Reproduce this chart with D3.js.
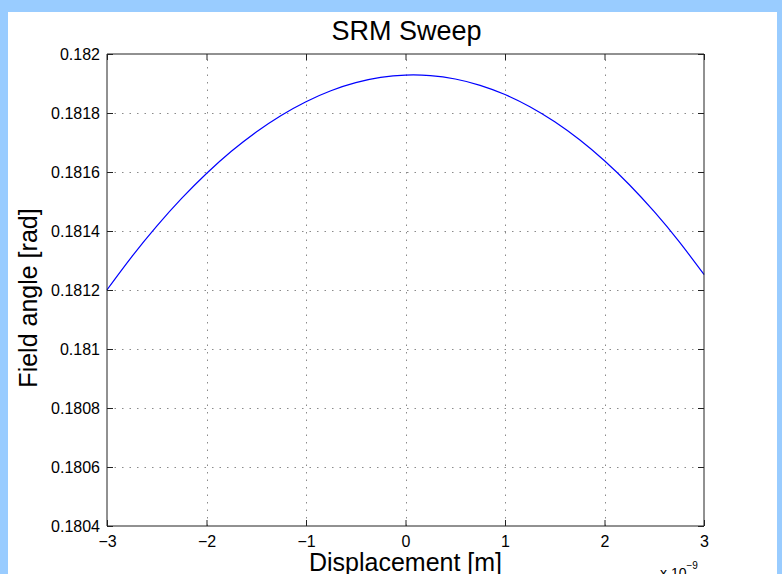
<!DOCTYPE html>
<html>
<head>
<meta charset="utf-8">
<script src="https://cdn.jsdelivr.net/npm/d3@7"></script>
<style>
  html, body { margin: 0; padding: 0; background: #99ccff; }
  svg { display: block; }
  text { font-family: "Liberation Sans", Arial, Helvetica, sans-serif; fill: #000; }
</style>
</head>
<body>
<svg id="chart" width="782" height="574"></svg>
<script>
// ---- data (x in units of 1e-9 m) ----
const displacement = [-3.00, -2.75, -2.50, -2.25, -2.00, -1.75, -1.50, -1.25, -1.00, -0.75, -0.50, -0.25,
                       0.00, 0.25, 0.50, 0.75, 1.00, 1.25, 1.50, 1.75, 2.00, 2.25, 2.50, 2.75, 3.00];
const fieldAngle = [0.1812006, 0.1813132, 0.1814165, 0.1815103, 0.1815949, 0.1816701, 0.1817357, 0.1817918,
                    0.1818384, 0.1818755, 0.1819028, 0.1819205, 0.1819285, 0.1819267, 0.1819152, 0.1818938,
                    0.1818626, 0.1818214, 0.1817703, 0.1817092, 0.1816381, 0.1815569, 0.1814655, 0.1813640, 0.1812524];
const xTicks = [-3, -2, -1, 0, 1, 2, 3];
const xTickLabels = ["\u22123", "\u22122", "\u22121", "0", "1", "2", "3"];
const yTicks = [0.1804, 0.1806, 0.1808, 0.1810, 0.1812, 0.1814, 0.1816, 0.1818, 0.1820];
const yTickLabels = ["0.1804", "0.1806", "0.1808", "0.181", "0.1812", "0.1814", "0.1816", "0.1818", "0.182"];
const titleText = "SRM Sweep";
const xLabelText = "Displacement [m]";
const yLabelText = "Field angle [rad]";

const svg = d3.select("#chart");
const W = 782, H = 574;
const plot = { left: 107, right: 704, top: 54, bottom: 526 };

// white figure panel
svg.append("rect").attr("x", 8).attr("y", 12).attr("width", 769).attr("height", H - 12).attr("fill", "#ffffff");

const x = d3.scaleLinear().domain([-3, 3]).range([plot.left, plot.right]);
const y = d3.scaleLinear().domain([0.1804, 0.1820]).range([plot.bottom, plot.top]);

// grid
const grid = svg.append("g").attr("stroke", "#8a8a8a").attr("stroke-width", 1)
  .attr("stroke-dasharray", "1.5,6").attr("fill", "none");
grid.selectAll("line.gx").data(xTicks.slice(1, -1)).join("line")
  .attr("x1", d => Math.round(x(d)) + 0.5).attr("x2", d => Math.round(x(d)) + 0.5)
  .attr("y1", plot.bottom).attr("y2", plot.top);
grid.selectAll("line.gy").data(yTicks.slice(1, -1)).join("line")
  .attr("y1", d => Math.round(y(d)) + 0.5).attr("y2", d => Math.round(y(d)) + 0.5)
  .attr("x1", plot.left).attr("x2", plot.right);

// curve
const pts = displacement.map((d, i) => [d, fieldAngle[i]]);
svg.append("path").datum(pts)
  .attr("fill", "none").attr("stroke", "#0000ff").attr("stroke-width", 1.2)
  .attr("d", d3.line().x(d => x(d[0])).y(d => y(d[1])).curve(d3.curveNatural));

// axes
const tickFont = 16;
const xAxisB = d3.axisBottom(x).tickValues(xTicks).tickSize(-6).tickPadding(10)
  .tickFormat((d, i) => xTickLabels[i]);
const xAxisT = d3.axisTop(x).tickValues(xTicks).tickSize(-6).tickFormat("");
const yAxisL = d3.axisLeft(y).tickValues(yTicks).tickSize(-6).tickPadding(7)
  .tickFormat((d, i) => yTickLabels[i]);
const yAxisR = d3.axisRight(y).tickValues(yTicks).tickSize(-6).tickFormat("");

function style(g) {
  g.selectAll("path.domain").attr("stroke", "#222").attr("stroke-width", 1);
  g.selectAll(".tick line").attr("stroke", "#222").attr("stroke-width", 1);
  g.selectAll(".tick text").attr("font-size", tickFont)
    .style("font-family", "'Liberation Sans', Arial, sans-serif").attr("fill", "#000");
}
svg.append("g").attr("transform", `translate(0,${plot.bottom})`).call(xAxisB).call(style)
  .call(g => g.selectAll("path.domain").attr("d", `M${plot.left},0H${plot.right}`));
svg.append("g").attr("transform", `translate(0,${plot.top})`).call(xAxisT).call(style)
  .call(g => g.selectAll("path.domain").attr("d", `M${plot.left},0H${plot.right}`));
svg.append("g").attr("transform", `translate(${plot.left},0)`).call(yAxisL).call(style)
  .call(g => g.selectAll("path.domain").attr("d", `M0,${plot.top}V${plot.bottom}`));
svg.append("g").attr("transform", `translate(${plot.right},0)`).call(yAxisR).call(style)
  .call(g => g.selectAll("path.domain").attr("d", `M0,${plot.top}V${plot.bottom}`));

// title and labels
svg.append("text").attr("x", (plot.left + plot.right) / 2 + 1).attr("y", 40)
  .attr("text-anchor", "middle").attr("font-size", 27).text(titleText);
svg.append("text").attr("x", (plot.left + plot.right) / 2).attr("y", 571)
  .attr("text-anchor", "middle").attr("font-size", 25).text(xLabelText);
svg.append("text").attr("transform", `translate(37,${(plot.top + plot.bottom) / 2 + 8}) rotate(-90)`)
  .attr("text-anchor", "middle").attr("font-size", 25).text(yLabelText);

// exponent label
const expo = svg.append("text").attr("x", 660).attr("y", 578).attr("font-size", 14);
expo.append("tspan").text("x 10");
expo.append("tspan").attr("dy", -9).attr("font-size", 10).text("\u22129");
</script>
</body>
</html>
